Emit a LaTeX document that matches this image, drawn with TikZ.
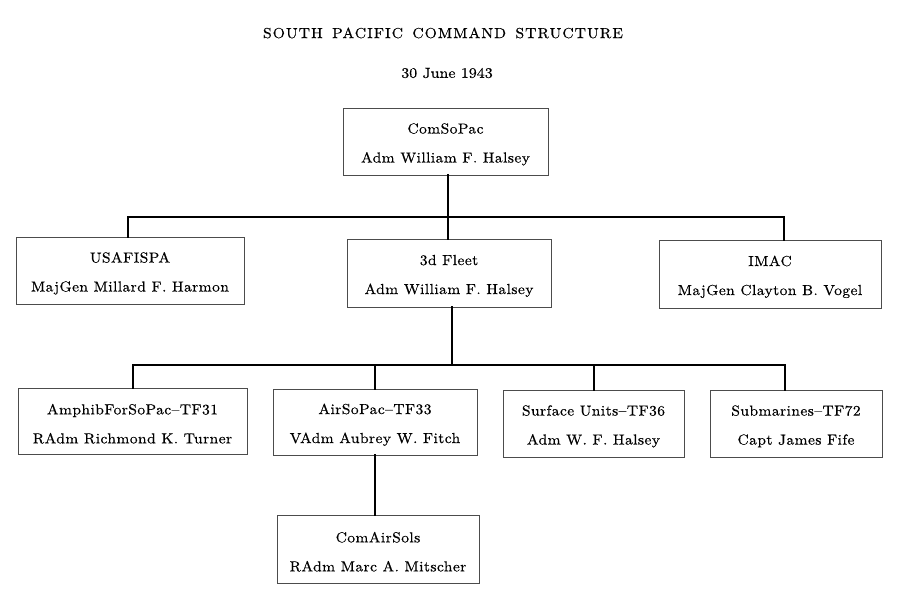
\documentclass[tikz,border=0pt]{standalone}
\usepackage{fontspec}
\newfontfamily\boxfont{lmroman10-regular.otf}[FakeStretch=1.07,LetterSpace=3,FakeBold=0.4]
\newfontfamily\titlefont{lmroman10-regular.otf}[FakeStretch=1.08,LetterSpace=7,WordSpace=1.5,FakeBold=0.4]
\newfontfamily\datefont{lmroman10-regular.otf}[FakeStretch=1.1,FakeBold=0.4]
\newcommand\mytopstrut{\rule{0pt}{16pt}}
\begin{document}
\begin{tikzpicture}[x=1pt,y=-1pt,
  box/.style={draw=black!70,line width=0.7pt,align=center,inner sep=0pt,
    font=\boxfont\fontsize{14.5}{29}\selectfont},
  conn/.style={draw=black,line width=2pt,line cap=rect},
  ttl/.style={inner sep=0pt,font=\titlefont\fontsize{14.5}{16}\selectfont}]
\useasboundingbox (0,0) rectangle (900,604);
\node[ttl] (title) at (443,33) {SOUTH PACIFIC COMMAND STRUCTURE};
\node[inner sep=0pt,font=\datefont\fontsize{14.5}{18}\selectfont] (date) at (447,73) {30 June 1943};

\node[box,minimum width=205pt,minimum height=67pt] (com) at (445.5,141.5) {\mytopstrut ComSoPac\\Adm William F. Halsey};
\node[box,minimum width=228pt,minimum height=67pt] (usa) at (130,270.5) {\mytopstrut USAFISPA\\MajGen Millard F. Harmon};
\node[box,minimum width=204pt,minimum height=68pt] (fleet) at (449,273) {\mytopstrut 3d Fleet\\Adm William F. Halsey};
\node[box,minimum width=222pt,minimum height=68pt] (imac) at (770,274) {\mytopstrut IMAC\\MajGen Clayton B. Vogel};
\node[box,minimum width=229pt,minimum height=66pt] (amph) at (132.5,421) {\mytopstrut AmphibForSoPac–TF31\\RAdm Richmond K. Turner};
\node[box,minimum width=204pt,minimum height=66pt] (air) at (375,422) {\mytopstrut AirSoPac–TF33\\VAdm Aubrey W. Fitch};
\node[box,minimum width=181pt,minimum height=67pt] (surf) at (593.5,423.5) {\mytopstrut Surface Units–TF36\\Adm W. F. Halsey};
\node[box,minimum width=172pt,minimum height=67pt] (sub) at (796,423.5) {\mytopstrut Submarines–TF72\\Capt James Fife};
\node[box,minimum width=202pt,minimum height=68pt] (sols) at (378,549) {\mytopstrut ComAirSols\\RAdm Marc A. Mitscher};

\coordinate (b1) at (448,217);
\coordinate (b1L) at (128,217);
\coordinate (b1R) at (784,217);
\draw[conn] (b1L) -- (b1R);
\draw[conn] (com.south -| b1) -- (b1);
\draw[conn] (b1L) -- (b1L |- usa.north);
\draw[conn] (b1) -- (b1 |- fleet.north);
\draw[conn] (b1R) -- (b1R |- imac.north);

\coordinate (b2) at (452,365);
\coordinate (b2L) at (133,365);
\coordinate (b2a) at (375,365);
\coordinate (b2s) at (594,365);
\coordinate (b2R) at (785,365);
\draw[conn] (b2L) -- (b2R);
\draw[conn] (fleet.south -| b2) -- (b2);
\draw[conn] (b2L) -- (b2L |- amph.north);
\draw[conn] (b2a) -- (b2a |- air.north);
\draw[conn] (b2s) -- (b2s |- surf.north);
\draw[conn] (b2R) -- (b2R |- sub.north);
\draw[conn] (sols.north -| air.south) -- (air.south);
\end{tikzpicture}
\end{document}
